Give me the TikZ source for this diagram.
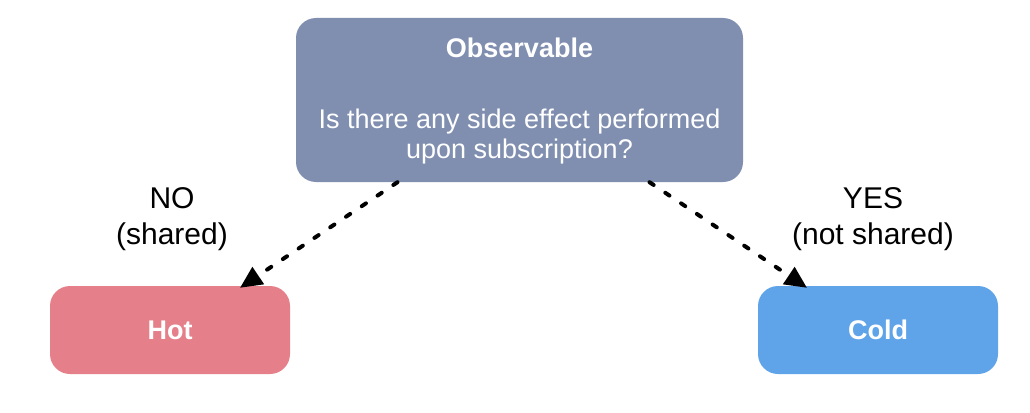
\documentclass[tikz,border=0pt]{standalone}
\usepackage{fontspec}
\setmainfont{Liberation Sans}
\usetikzlibrary{arrows.meta}
\definecolor{obsfill}{RGB}{128,143,176}
\definecolor{hotfill}{RGB}{229,127,138}
\definecolor{coldfill}{RGB}{95,163,232}
\tikzset{
  card/.style={fill=#1, draw=none, rounded corners=20pt, inner sep=0pt},
  boxtext/.style={text=white, inner sep=0pt, font=\fontsize{27}{30}\selectfont},
  boxtitle/.style={text=white, inner sep=0pt, font=\fontsize{27}{30}\selectfont\bfseries},
  edgelabel/.style={text=black, inner sep=0pt, align=center, font=\fontsize{30}{36}\selectfont},
  flow/.style={line width=4pt, line cap=round, dash pattern=on 5pt off 14pt,
    -{Triangle[length=22pt,width=20pt]}}
}
\begin{document}
\begin{tikzpicture}[x=1pt,y=-1pt]
  \useasboundingbox (0,0) rectangle (1030,412);
  % decision box
  \node[card=obsfill, minimum width=447pt, minimum height=164pt] (obs) at (519.5,100) {};
  \node[boxtitle, anchor=base] (obstitle) at (519.5,57) {Observable};
  \node[boxtext, anchor=base] (q1) at (519.5,128) {Is there any side effect performed};
  \node[boxtext, anchor=base] (q2) at (519.5,158) {upon subscription?};
  % outcomes
  \node[card=hotfill, minimum width=240pt, minimum height=88pt, boxtitle] (hot) at (170,330) {Hot};
  \node[card=coldfill, minimum width=240pt, minimum height=88pt, boxtitle] (cold) at (878,330) {Cold};
  % branch labels
  \node[edgelabel, anchor=base] (no) at (172,208) {NO};
  \node[edgelabel, anchor=base] (noshared) at (172,244) {(shared)};
  \node[edgelabel, anchor=base] (yes) at (873,208) {YES};
  \node[edgelabel, anchor=base] (yesshared) at (873,244) {(not shared)};
  % branches
  \draw[flow] ([xshift=-122pt]obs.south) -- ([xshift=70pt,yshift=-2pt]hot.north);
  \draw[flow] ([xshift=130pt]obs.south) -- ([xshift=-71pt,yshift=-2pt]cold.north);
\end{tikzpicture}
\end{document}
